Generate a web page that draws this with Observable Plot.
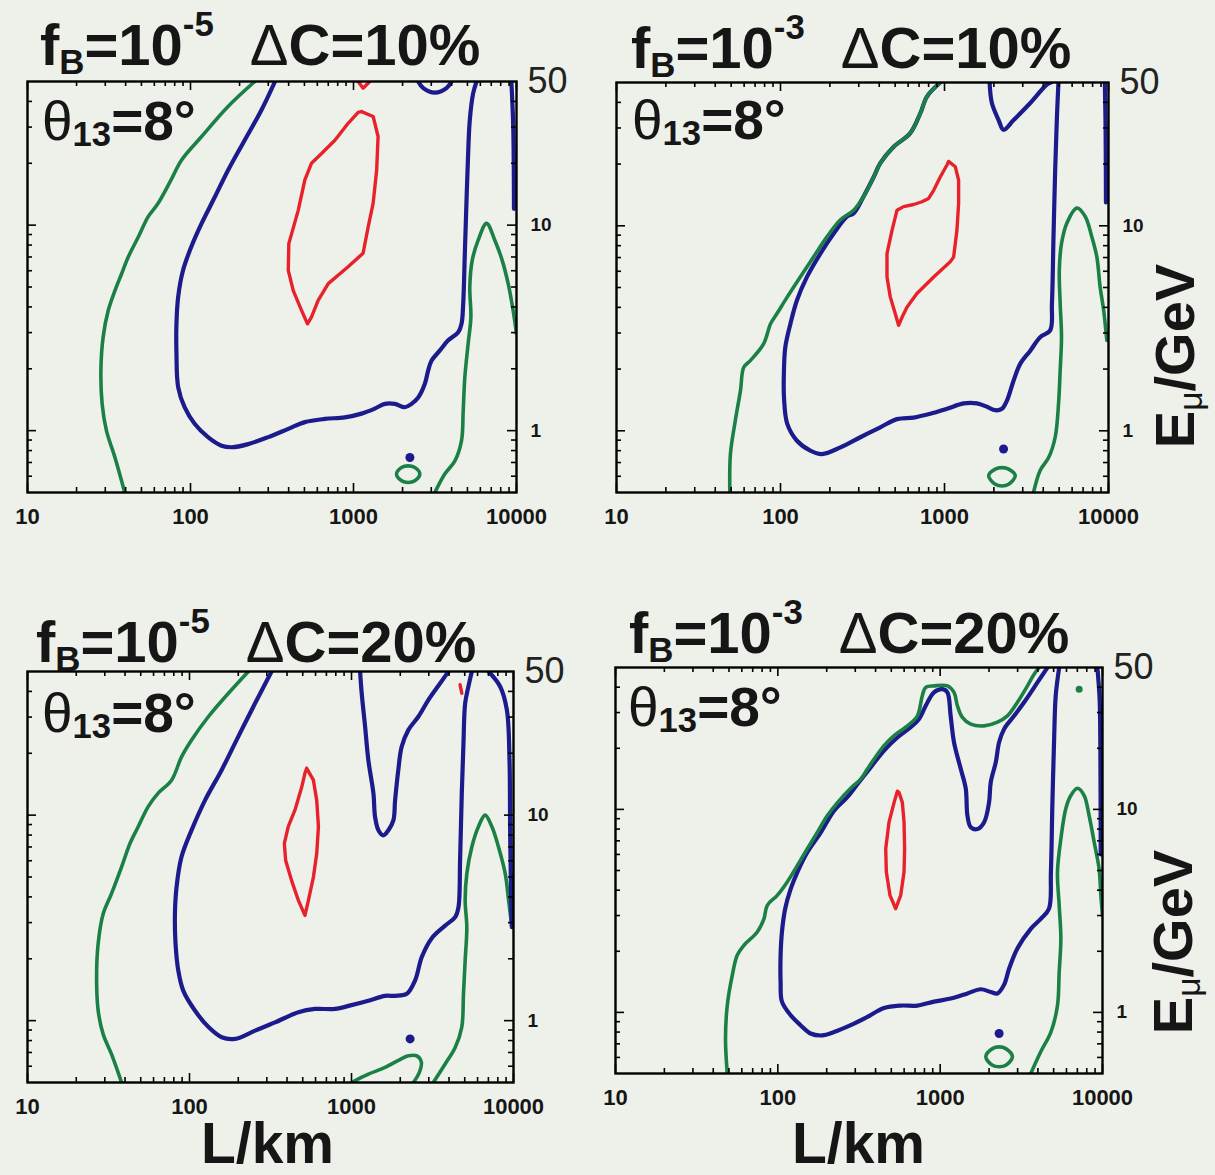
<!DOCTYPE html>
<html><head><meta charset="utf-8">
<script src="https://cdn.jsdelivr.net/npm/d3@7"></script>
<script src="https://cdn.jsdelivr.net/npm/@observablehq/plot@0.6"></script>
<style>
body{margin:0;background:#eef1ea;}
#root{position:relative;width:1215px;height:1175px;overflow:hidden;background:#eef1ea;font-family:"Liberation Sans",Arial,Helvetica,sans-serif;color:#161616;}
.t{position:absolute;white-space:nowrap;font-weight:bold;line-height:1;}
.sub{font-size:0.6em;position:relative;top:0.25em;}
.sup{font-size:0.6em;position:relative;top:-0.83em;}
.sub2{font-size:0.63em;position:relative;top:0.15em;}
.thin{font-weight:normal;}
svg{overflow:visible;}
</style></head><body><div id="root"></div>
<script>
// ---------- axis values ----------
const xMajor = [10, 100, 1000, 10000];
const xMinor = [20,30,40,50,60,70,80,90,200,300,400,500,600,700,800,900,2000,3000,4000,5000,6000,7000,8000,9000];
const yMajor = [1, 10];
const yMinor = [0.6,0.7,0.8,0.9,2,3,4,5,6,7,8,9,20,30,40];
const yTop = [50];

// ---------- panel titles ----------
const fB = ["-5", "-3", "-5", "-3"];
const dC = ["10%", "10%", "20%", "20%"];

// ---------- top-left: fB=1e-5, dC=10% ----------
const tl_green_a = [[248,50],[170,37.8],[117,27],[88,20.7],[76,16.6],[63,12.7],[55,11],[48,8.8],[41.5,7],[37.8,5.8],[34.4,4.8],[31.3,3.85],[29.1,2.85],[28.2,1.96],[28.7,1.35],[30.5,1.0],[34.4,0.74],[39.5,0.5]];
const tl_green_b = [[3155,0.5],[3630,0.615],[4190,0.713],[4600,0.894],[4710,1.25],[4820,1.82],[5050,2.65],[5250,3.57],[5170,5.0],[5350,6.74],[5820,8.45],[6550,10.2],[7360,8.45],[8170,6.74],[8890,5.19],[9530,3.85],[10000,2.96]];
const tl_green_c = [[1836,0.615],[1972,0.661],[2163,0.674],[2377,0.661],[2552,0.615],[2377,0.570],[2163,0.559],[1972,0.570]];
const tl_blue_a = [[330,50],[273,36.4],[215,25.9],[170,18.5],[141,13.7],[117,10.2],[101,7.83],[90,6.03],[84,4.47],[82,3.31],[82,2.37],[84,1.63],[92,1.30],[106,1.08],[128,0.93],[155,0.845],[179,0.83],[226,0.86],[300,0.93],[398,1.02],[503,1.10],[667,1.14],[885,1.16],[1120,1.21],[1350,1.28],[1557,1.35],[1790,1.35],[2066,1.30],[2270,1.35],[2495,1.45],[2740,1.69],[2870,1.96],[3010,2.19],[3380,2.45],[3810,2.75],[4390,3.01],[4600,3.31],[4710,4.15],[4820,7.3],[4930,12.8],[5050,22.3],[5170,32.5],[5420,43.8],[5690,50]];
const tl_blue_b = [[2495,50],[2680,46.4],[3155,44.1],[3720,46.4],[3990,50]];
const tl_blue_c = [[9300,50],[9550,30],[9650,12]];
const tl_blue_dot = [[2218,0.74]];
const tl_red_a = [[1120,35.7],[1320,33.8],[1415,27],[1387,18.5],[1320,12.8],[1231,9.82],[1145,7.3],[927,6.27],[700,5.19],[607,4.3],[552,3.57],[522,3.31],[480,3.85],[427,4.8],[398,6.03],[401,8.13],[458,11.8],[503,16.6],[552,20],[637,22.3],[769,25.9],[927,31.3],[1068,35.4],[1120,35.7]];
const tl_red_b = [[1068,50],[1145,46.4],[1259,50]];

// ---------- top-right: fB=1e-3, dC=10% ----------
const tr_green_a = [[942,50],[782,42.7],[712,35.4],[618,28.3],[490,24.3],[406,20.2],[370,17.3],[321,13.9],[279,11.9],[232,10.7],[192,8.83],[159,7.05],[132,5.63],[110,4.5],[95,3.72],[87,3.33],[79,2.66],[65.5,2.2],[59.7,2.04],[57,1.57],[53,1.12],[49.5,0.77],[49.1,0.5]];
const tr_green_b = [[3490,0.5],[3830,0.64],[4315,0.74],[4730,0.93],[4960,1.36],[5075,1.98],[5170,2.86],[5075,4.17],[5012,6.07],[5170,8.19],[5570,10.3],[6410,12.2],[7210,11.1],[7910,8.83],[8490,7.05],[8890,5.03],[9330,3.90],[9770,2.76]];
const tr_green_c = [[1858,0.604],[2040,0.65],[2240,0.661],[2460,0.65],[2700,0.604],[2460,0.548],[2240,0.538],[2040,0.548]];
const tr_blue_a = [[942,50],[782,42.7],[712,35.4],[618,28.3],[490,24.3],[406,20.2],[370,17.3],[321,13.9],[279,11.5],[254,11.1],[211,9.17],[175,7.32],[145,5.63],[126,4.33],[115,3.33],[107,2.56],[105,1.98],[105,1.46],[110,1.08],[126,0.894],[152,0.80],[179,0.77],[232,0.83],[307,0.93],[406,1.04],[513,1.14],[648,1.16],[819,1.21],[1035,1.28],[1308,1.36],[1577,1.36],[1815,1.31],[2040,1.26],[2240,1.28],[2400,1.40],[2640,1.76],[2895,2.12],[3335,2.46],[3830,2.86],[4410,3.09],[4520,4.17],[4620,8.83],[4730,18.7],[4840,32.8],[4950,50]];
const tr_blue_b = [[1884,50],[1945,39.7],[2137,32.8],[2291,29.4],[2640,32.8],[3335,39.7],[4210,48.9],[4455,50]];
const tr_blue_c = [[9500,50],[9600,30],[9650,13]];
const tr_blue_dot = [[2291,0.815]];
const tr_red_a = [[1059,20.6],[1164,19.4],[1219,16.7],[1219,12.9],[1191,9.53],[1137,7.05],[1084,6.67],[859,5.63],[679,4.67],[590,4.01],[551,3.58],[525,3.27],[501,3.72],[467,4.5],[446,5.63],[446,7.32],[479,9.53],[513,11.9],[563,12.4],[648,12.7],[729,13.1],[800,13.6],[859,14.9],[942,17.3],[1035,19.8],[1059,20.6]];

// ---------- bottom-left: fB=1e-5, dC=20% ----------
const bl_green_a = [[231,50],[174,39.2],[131,30.2],[103,23.2],[89.3,19.2],[77.5,14.8],[64.1,12.8],[55.6,11.0],[48.3,8.8],[42.9,7.28],[38.1,5.6],[33,4.15],[29.3,3.3],[27.3,2.37],[26.7,1.63],[27.3,1.12],[29.3,0.86],[33,0.687],[38.1,0.5]];
const bl_green_b = [[3200,0.5],[3785,0.615],[4365,0.74],[4795,0.93],[4910,1.35],[5030,1.96],[5150,2.85],[5030,3.85],[5150,5.19],[5530,7.0],[6080,8.8],[6680,10.0],[7350,8.8],[8080,7.0],[8890,5.19],[9330,3.85],[9770,2.85]];
const bl_green_c = [[1000,0.5],[1271,0.549],[1612,0.592],[1945,0.64],[2246,0.674],[2530,0.674],[2700,0.627],[2620,0.559],[2410,0.5]];
const bl_blue_a = [[321,50],[254,35],[200,24.1],[158,16.6],[124.6,11.8],[103,8.45],[89.3,6.27],[83.2,4.47],[81.3,3.31],[82,2.37],[85.3,1.75],[91.5,1.40],[108,1.12],[131,0.93],[158,0.83],[191,0.815],[254,0.894],[337,0.98],[470,1.10],[596,1.14],[791,1.14],[1000,1.19],[1271,1.25],[1612,1.32],[1858,1.32],[2193,1.35],[2470,1.57],[2715,2.04],[3130,2.52],[3785,2.9],[4365,3.19],[4575,3.57],[4680,6.03],[4795,12.8],[4910,22.3],[5030,35],[5270,42.3],[5530,50]];
const bl_blue_b = [[1130,50],[1156,39.2],[1213,27],[1271,18.5],[1365,12.8],[1398,9.8],[1466,8.45],[1574,7.98],[1690,8.45],[1815,9.46],[1858,11.8],[1945,16.6],[2040,21.5],[2246,26],[2590,30.2],[2985,36.4],[3525,43.8],[3965,50]];
const bl_blue_c = [[7010,50],[8270,42.3],[9100,32.5],[9450,18.5],[9530,8.8],[9660,4.15],[9770,2.85]];
const bl_blue_dot = [[2300,0.815]];
const bl_red_a = [[529,16.9],[582,14.8],[610,11.8],[625,8.8],[610,6.5],[582,5.0],[542,3.85],[516,3.25],[470,3.85],[427,4.8],[392,6.03],[385,7.28],[407,8.8],[448,10.6],[493,13.7],[516,16.0],[529,16.9]];
const bl_red_b = [[4680,43.1],[4795,39.2]];

// ---------- bottom-right: fB=1e-3, dC=20% ----------
const br_green_a = [[48.8,0.5],[47.6,0.74],[48.8,1.08],[52.4,1.52],[56.2,1.91],[61.8,2.14],[74.7,2.49],[82.1,2.89],[86.1,3.37],[99.1,3.77],[114,4.38],[132,5.3],[152,6.4],[175,7.7],[202,9.32],[233,10.8],[281,12.7],[324,14.1],[356,15.8],[392,17.7],[451,20.6],[520,23.1],[628,25.8],[724,28.9],[776,36.3],[815,39.9],[916,40.6],[1108,40.6],[1217,37.7],[1277,32.4],[1370,28.4],[1543,26.3],[1866,25.8],[2253,26.9],[2594,28.9],[2992,33.7],[3450,40.6],[3790,46.3],[4070,50]];
const br_green_b = [[3615,0.5],[4165,0.64],[4810,0.8],[5280,1.08],[5410,1.58],[5540,2.31],[5410,3.37],[5280,4.91],[5540,7.16],[5945,10.1],[6380,11.7],[7010,12.7],[7710,11.7],[8270,9.32],[8890,6.89],[9530,5.1],[9770,3.77],[10000,3.0]];
const br_green_c = [[1910,0.604],[2100,0.663],[2307,0.676],[2535,0.663],[2787,0.604],[2535,0.549],[2307,0.54],[2100,0.549]];
const br_green_dot = [[7180,39.1]];
const br_blue_a = [[4580,50],[4365,47.2],[3975,42.2],[3290,33.7],[2855,28.9],[2478,24.9],[2307,21.4],[2202,17.1],[2049,13.6],[2000,10.8],[1866,8.65],[1695,8.0],[1543,8.17],[1472,9.32],[1437,12.7],[1340,15.8],[1217,21.4],[1160,28.9],[1108,37.7],[1034,39.1],[916,37.7],[815,32.4],[741,27.9],[658,25.4],[545,22.6],[451,19.5],[373,16.1],[309,13.3],[268,11.5],[222,9.86],[184,7.7],[152,6.15],[132,4.91],[120,4.06],[111,3.24],[106,2.49],[104,1.91],[104,1.41],[106,1.13],[120,0.968],[138,0.865],[159,0.787],[188,0.77],[222,0.8],[281,0.865],[356,0.95],[451,1.05],[571,1.08],[724,1.08],[916,1.13],[1160,1.17],[1472,1.24],[1778,1.30],[2049,1.26],[2253,1.24],[2478,1.37],[2658,1.64],[2985,2.06],[3615,2.58],[4165,2.89],[4680,3.24],[4810,4.91],[4910,10.45],[5035,22.2],[5150,36.3],[5410,50]];
const br_blue_c = [[9300,50],[9600,35],[9700,20],[9750,6]];
const br_blue_dot = [[2307,0.787]];
const br_red_a = [[558,12.1],[585,10.8],[599,8.65],[604,6.4],[599,4.91],[571,3.77],[532,3.24],[491,3.77],[466,4.91],[462,6.4],[484,8.65],[520,10.8],[545,12.3],[558,12.1]];

// ---------- styling ----------
const GREEN = "#1b8046", BLUE = "#1b1b8c", RED = "#e8222b";
const root = document.getElementById("root");

const panels = [
  {left:27, top:81, fw:489, fh:411,
   greens:[tl_green_a, tl_green_b], loops:[tl_green_c], blues:[tl_blue_a, tl_blue_b, tl_blue_c], reds:[tl_red_a, tl_red_b], bdots:tl_blue_dot, gdots:[]},
  {left:616, top:82, fw:492, fh:410,
   greens:[tr_green_a, tr_green_b], loops:[tr_green_c], blues:[tr_blue_a, tr_blue_b, tr_blue_c], reds:[tr_red_a], bdots:tr_blue_dot, gdots:[], blueFirst:true},
  {left:27, top:671, fw:486, fh:411,
   greens:[bl_green_a, bl_green_b, bl_green_c], loops:[], blues:[bl_blue_a, bl_blue_b, bl_blue_c], reds:[bl_red_a, bl_red_b], bdots:bl_blue_dot, gdots:[]},
  {left:615, top:667, fw:487, fh:406,
   greens:[br_green_a, br_green_b], loops:[br_green_c], blues:[br_blue_a, br_blue_c], reds:[br_red_a], bdots:br_blue_dot, gdots:br_green_dot, blueFirst:true}
];

function makePanel(p) {
  const ml = 30, mt = 22, mr = 75, mb = 45;
  const X = d => d[0], Y = d => d[1];
  const lineOpts = (c, w, curve) => ({x:X, y:Y, stroke:c, strokeWidth:w, curve, clip:true, strokeLinejoin:"round", strokeLinecap:"round"});
  const greenMarks = [
    ...p.greens.map(g => Plot.line(g, lineOpts(GREEN, 3.6, "catmull-rom"))),
    ...p.loops.map(g => Plot.line(g, lineOpts(GREEN, 3.6, "catmull-rom-closed")))
  ];
  const blueMarks = p.blues.map(b => Plot.line(b, lineOpts(BLUE, 4.2, "catmull-rom")));
  const redMarks = p.reds.map(r => Plot.line(r, lineOpts(RED, 3.4, "linear")));
  const majLen = 9, minLen = 5;
  const tickStyle = {stroke:"#000", strokeWidth:1.6};
  const marks = [
    ...(p.blueFirst ? [...blueMarks, ...greenMarks] : [...greenMarks, ...blueMarks]),
    ...redMarks,
    Plot.dot(p.bdots, {x:X, y:Y, r:4.5, fill:BLUE, stroke:null}),
    Plot.dot(p.gdots, {x:X, y:Y, r:3.5, fill:GREEN, stroke:null}),
    // inward ticks on all four sides
    Plot.tickX(xMajor, {x:d=>d, insetTop:p.fh-majLen, ...tickStyle}),
    Plot.tickX(xMinor, {x:d=>d, insetTop:p.fh-minLen, ...tickStyle}),
    Plot.tickX(xMajor, {x:d=>d, insetBottom:p.fh-majLen, ...tickStyle}),
    Plot.tickX(xMinor, {x:d=>d, insetBottom:p.fh-minLen, ...tickStyle}),
    Plot.tickY(yMajor, {y:d=>d, insetRight:p.fw-majLen, ...tickStyle}),
    Plot.tickY(yMinor, {y:d=>d, insetRight:p.fw-minLen, ...tickStyle}),
    Plot.tickY(yMajor, {y:d=>d, insetLeft:p.fw-majLen, ...tickStyle}),
    Plot.tickY(yMinor, {y:d=>d, insetLeft:p.fw-minLen, ...tickStyle}),
    Plot.frame({stroke:"#000", strokeWidth:2.4}),
    Plot.axisX(xMajor, {anchor:"bottom", tickSize:0, tickPadding:16, tickFormat:d=>String(d), label:null, fontSize:22, fontWeight:"bold", fill:"#161616"}),
    Plot.axisY(yMajor, {anchor:"right", tickSize:0, tickPadding:14, tickFormat:d=>String(d), label:null, fontSize:19, fontWeight:"bold", fill:"#161616"}),
    Plot.axisY(yTop, {anchor:"right", tickSize:0, tickPadding:11, tickFormat:d=>String(d), label:null, fontSize:36, fontWeight:"normal", fill:"#222"})
  ];
  const svg = Plot.plot({
    width: ml + p.fw + mr, height: mt + p.fh + mb,
    marginLeft: ml, marginTop: mt, marginRight: mr, marginBottom: mb,
    x: {type:"log", domain:[10, 10000], axis:null, label:null},
    y: {type:"log", domain:[0.5, 50], axis:null, label:null},
    style: {background:"transparent", fontFamily:"'Liberation Sans', Arial, sans-serif", color:"#161616", overflow:"visible"},
    marks
  });
  svg.style.position = "absolute";
  svg.style.left = (p.left - ml) + "px";
  svg.style.top = (p.top - mt) + "px";
  root.appendChild(svg);
}
panels.forEach(makePanel);

// ---------- text ----------
function addText(html, left, baseline, size, extra) {
  const d = document.createElement("div");
  d.className = "t";
  d.style.left = left + "px";
  d.style.top = (baseline - 0.8465 * size) + "px";
  d.style.fontSize = size + "px";
  if (extra) Object.assign(d.style, extra);
  d.innerHTML = html;
  root.appendChild(d);
  return d;
}
const titlePos = [[40,65],[631,68],[36,662],[629,653]];
const thetaPos = [[42,141],[632,140],[42,733],[628,727]];
titlePos.forEach(([x, b], i) => {
  addText(`f<span class="sub">B</span>=10<span class="sup">${fB[i]}</span><span style="display:inline-block;width:36px"></span><span class="thin">&Delta;</span>C=${dC[i]}`, x, b, 58);
});
thetaPos.forEach(([x, b]) => {
  addText(`<span class="thin">&theta;</span><span class="sub2">13</span>=8&deg;`, x, b, 55);
});
addText("L/km", 201, 1166, 57, {lineHeight:"0.9"});
addText("L/km", 792, 1166, 57, {lineHeight:"0.9"});
function addE(cx, cy) {
  const d = document.createElement("div");
  d.className = "t";
  d.style.fontSize = "56px";
  d.style.left = cx + "px";
  d.style.top = cy + "px";
  d.style.transform = "translate(-50%,-50%) rotate(-90deg)";
  d.innerHTML = `E<span class="sub thin">&mu;</span>/GeV`;
  root.appendChild(d);
}
addE(1175, 356);
addE(1173, 942);
</script></body></html>
